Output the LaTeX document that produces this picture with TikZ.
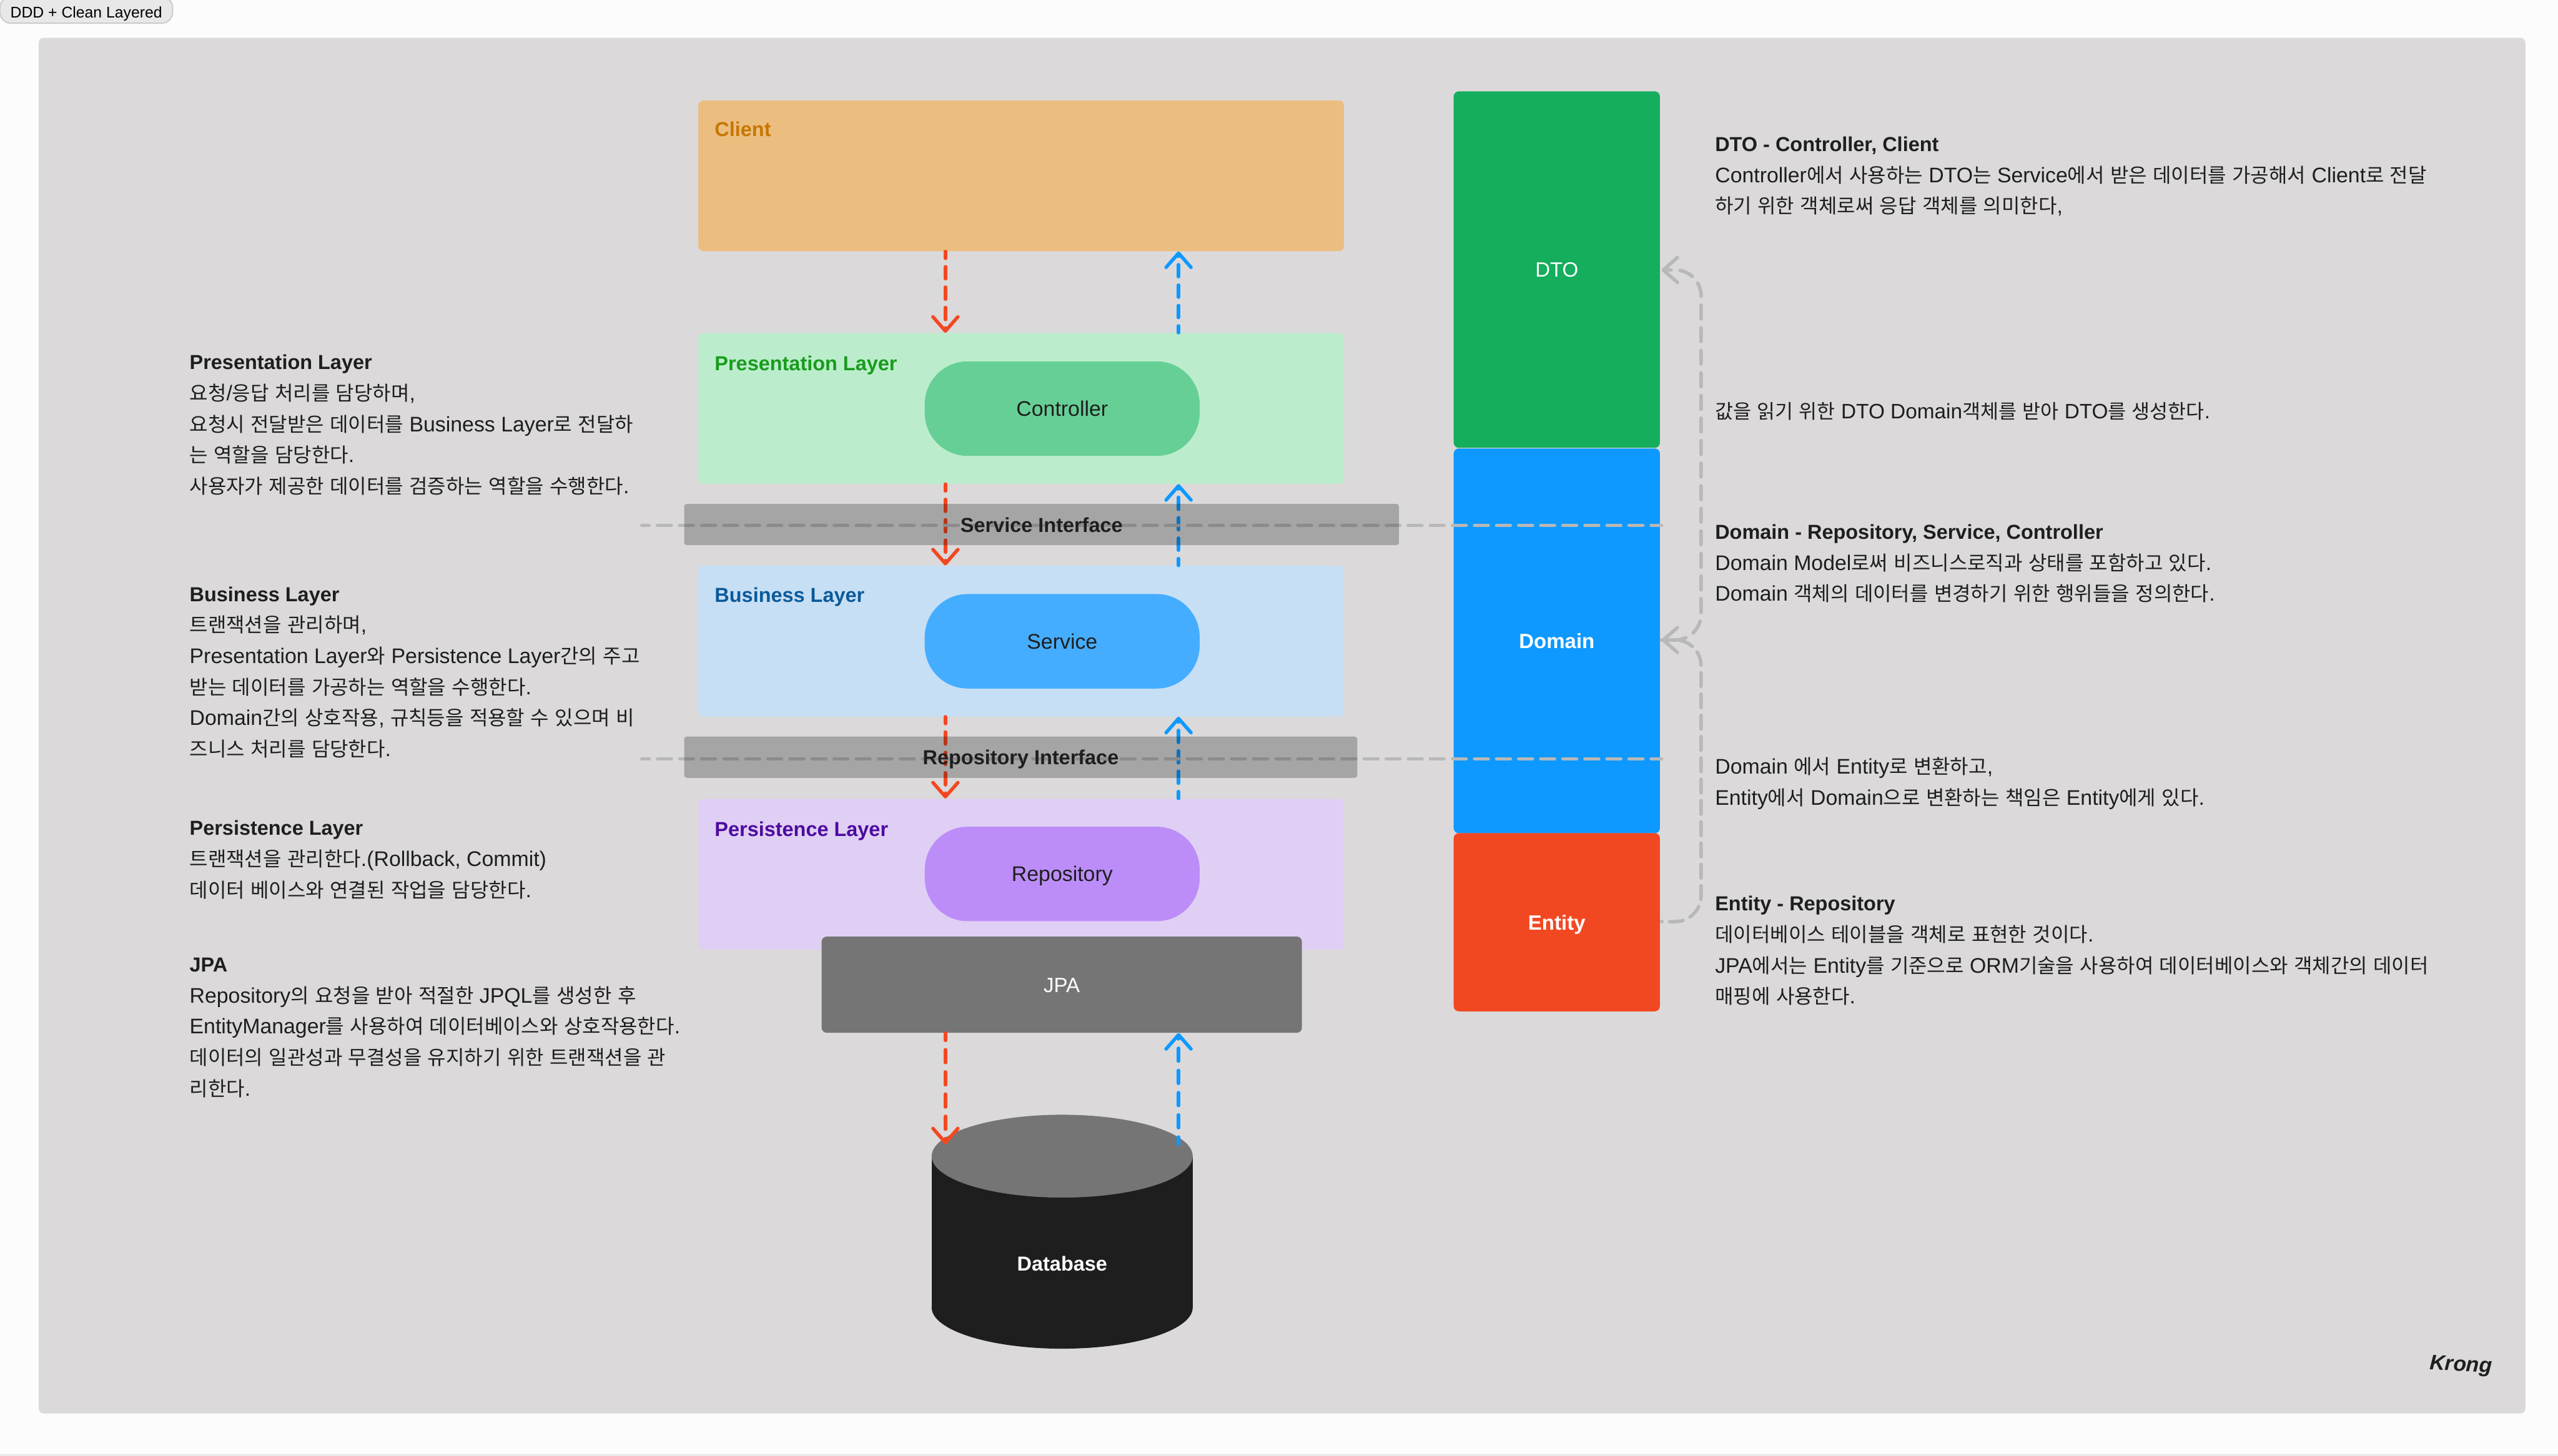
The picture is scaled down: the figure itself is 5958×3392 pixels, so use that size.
\documentclass[tikz,border=0pt]{standalone}
\usepackage{fontspec}
\usetikzlibrary{arrows.meta}
\setmainfont{Liberation Sans}
\newfontfamily\latfam{Liberation Sans}
\newfontfamily\krfam{Noto Sans CJK KR}[Scale=0.945]
\XeTeXinterchartokenstate=1
\newXeTeXintercharclass\krclass
\newcount\krcnt
\krcnt="AC00
\loop
  \XeTeXcharclass\krcnt=\krclass
  \ifnum\krcnt<"D7A3
  \advance\krcnt by 1
\repeat
\XeTeXinterchartoks 0 \krclass={\krfam}
\XeTeXinterchartoks 4095 \krclass={\krfam}
\XeTeXinterchartoks \krclass 0={\latfam}
\XeTeXinterchartoks \krclass 4095={\latfam}
\newcommand{\notetitle}[1]{{\fontsize{13.42}{20.55}\selectfont\bfseries #1}}
\definecolor{pagebg}{HTML}{FCFCFC}
\definecolor{panelbg}{HTML}{DBD9DA}
\definecolor{ink}{HTML}{1E1E1E}
\definecolor{redarrow}{HTML}{F24822}
\definecolor{bluearrow}{HTML}{0D99FF}
\definecolor{dtofill}{HTML}{14AE5C}
\definecolor{dashgrey}{HTML}{B8B8B8}
\definecolor{clientfill}{HTML}{EBBE80}
\definecolor{presentfill}{HTML}{BBEDCC}
\definecolor{businessfill}{HTML}{C6DFF5}
\definecolor{persistfill}{HTML}{E0CFF4}
\definecolor{clientink}{HTML}{C77700}
\definecolor{presentink}{HTML}{189C1C}
\definecolor{businessink}{HTML}{0B5A9A}
\definecolor{persistink}{HTML}{4D0BA0}
\definecolor{controllerfill}{HTML}{66CF95}
\definecolor{servicefill}{HTML}{45ADFF}
\definecolor{repofill}{HTML}{BC8DF8}
\definecolor{jpafill}{HTML}{757575}
\tikzset{
  x=0.01cm,y=-0.01cm,
  centered/.style={text height=0.355cm,text depth=0cm},
  layerbox/.style={rectangle,rounded corners=0.12cm,inner sep=0,minimum width=15.03cm,minimum height=3.51cm},
  pill/.style={rectangle,rounded corners=1cm,inner sep=0,minimum width=6.4cm,minimum height=2.2cm,text=ink,centered,font=\fontsize{14}{20}\selectfont},
  interface/.style={rectangle,rounded corners=0.06cm,inner sep=0,minimum height=0.96cm,fill=black,fill opacity=0.24,text opacity=1,text=ink,centered,font=\fontsize{13.42}{20}\selectfont\bfseries},
  column/.style={rectangle,rounded corners=0.12cm,inner sep=0,minimum width=4.8cm,text=white,centered,font=\fontsize{13.66}{20}\selectfont},
  layerlabel/.style={anchor=west,inner sep=0,centered,font=\fontsize{13.42}{20}\selectfont\bfseries},
  note/.style={anchor=north west,inner sep=0,align=left,text=ink,font=\fontsize{14}{20.55}\selectfont},
  flowbase/.style={line width=0.08cm,line cap=round,-{Straight Barb[length=0.33cm,width=0.58cm,round]}},
  flowshort/.style={flowbase,dash pattern=on 0.28cm off 0.195cm,dash phase=0.12cm},
  flowlong/.style={flowbase,dash pattern=on 0.30cm off 0.217cm,dash phase=0.13cm},
  divider/.style={line width=0.08cm,line cap=round,draw=dashgrey,dash pattern=on 0.32cm off 0.194cm,dash phase=0.15cm},
  bracket/.style={line width=0.08cm,line cap=round,draw=dashgrey,rounded corners=0.6cm,{Straight Barb[length=0.33cm,width=0.58cm,round]}-},
}
\begin{document}
\begin{tikzpicture}
\useasboundingbox (0,0) rectangle (5958,3392);
\fill[pagebg] (0,0) rectangle (5958,3392);
\fill[black!9] (0,3388) rectangle (5958,3392);
\fill[panelbg,rounded corners=0.12cm] (90,88) rectangle (5882,3293);
\node[rectangle,rounded corners=0.26cm,fill=black!9,draw=black!20,line width=0.03cm,minimum width=4.02cm,minimum height=0.62cm,inner sep=0,text=black,text height=0.38cm,text depth=0cm,font=\fontsize{10.24}{12}\selectfont] (tag) at (201,23) {DDD + Clean Layered};

% layers
\node[layerbox,fill=clientfill] (client) at (2378.5,409.5) {};
\node[layerbox,fill=presentfill] (present) at (2378.5,951.5) {};
\node[layerbox,fill=businessfill] (business) at (2378.5,1493.5) {};
\node[layerbox,fill=persistfill] (persist) at (2378.5,2036.5) {};
\node[layerlabel,text=clientink] (clientlbl) at (1664,300) {Client};
\node[layerlabel,text=presentink] (presentlbl) at (1664,846) {Presentation Layer};
\node[layerlabel,text=businessink] (businesslbl) at (1664,1385) {Business Layer};
\node[layerlabel,text=persistink] (persistlbl) at (1664,1930) {Persistence Layer};
\node[pill,fill=controllerfill] (controller) at (2474,952) {Controller};
\node[pill,fill=servicefill] (service) at (2474,1494) {Service};
\node[pill,fill=repofill] (repository) at (2474,2036) {Repository};
\node[rectangle,rounded corners=0.12cm,inner sep=0,minimum width=11.18cm,minimum height=2.24cm,fill=jpafill,text=white,centered,font=\fontsize{13.66}{20}\selectfont] (jpa) at (2473,2294) {JPA};

% columns
\node[column,minimum height=8.3cm,fill=dtofill] (dto) at (3626,628) {DTO};
\node[column,minimum height=8.96cm,fill=bluearrow,font=\fontsize{13.66}{20}\selectfont\bfseries] (domain) at (3626,1493) {Domain};
\node[column,minimum height=4.15cm,fill=redarrow,font=\fontsize{13.66}{20}\selectfont\bfseries] (entity) at (3626,2148.5) {Entity};

% database
\fill[ink] (2474,3046) ellipse [x radius=304,y radius=96];
\fill[ink] (2170,2693) rectangle (2778,3046);
\fill[jpafill] (2474,2693.5) ellipse [x radius=304,y radius=96.5];
\node[text=white,inner sep=0,centered,font=\fontsize{13.42}{20}\selectfont\bfseries] (database) at (2474,2943) {Database};

% guides
\coordinate (redx) at (2202,0);
\coordinate (bluex) at (2745,0);
\coordinate (dbtop) at (0,2666);
\coordinate (sL) at (1495,1224);
\coordinate (sR) at (3870,1224);
\coordinate (rL) at (1495,1768);
\coordinate (rR) at (3870,1768);
\coordinate (dtoIn) at (3870,629);
\coordinate (domIn) at (3870,1491);
\coordinate (entOut) at (3870,2147);
\coordinate (railx) at (3962,0);

\foreach \a/\b in {client/present,present/business,business/persist}{
  \draw[flowshort,draw=redarrow] (\a.south -| redx) -- (\b.north -| redx);
  \draw[flowshort,draw=bluearrow] (\b.north -| bluex) -- (\a.south -| bluex);
}
\draw[flowlong,draw=redarrow] (jpa.south -| redx) -- (dbtop -| redx);
\draw[flowlong,draw=bluearrow] (dbtop -| bluex) -- (jpa.south -| bluex);

\draw[divider] (sL) -- (sR);
\draw[divider] (rL) -- (rR);
\node[interface,minimum width=16.64cm] (serviceif) at (2426,1222) {Service Interface};
\node[interface,minimum width=15.67cm] (repoif) at (2377.5,1764) {Repository Interface};

\draw[bracket,dash pattern=on 0.32cm off 0.176cm,dash phase=0.146cm] (domIn) -- (domIn -| railx) -- (entOut -| railx) -- (entOut);
\draw[bracket,dash pattern=on 0.32cm off 0.2056cm,dash phase=0.1756cm] (dtoIn) -- (dtoIn -| railx) -- (domIn -| railx) -- (domIn);

% notes
\node[note] (n1) at (441,826) {\notetitle{Presentation Layer}\\요청/응답 처리를 담당하며,\\요청시 전달받은 데이터를 Business Layer로 전달하\\는 역할을 담당한다.\\사용자가 제공한 데이터를 검증하는 역할을 수행한다.};
\node[note] (n2) at (441,1366) {\notetitle{Business Layer}\\트랜잭션을 관리하며,\\Presentation Layer와 Persistence Layer간의 주고\\받는 데이터를 가공하는 역할을 수행한다.\\Domain간의 상호작용, 규칙등을 적용할 수 있으며 비\\즈니스 처리를 담당한다.};
\node[note] (n3) at (441,1911) {\notetitle{Persistence Layer}\\트랜잭션을 관리한다.(Rollback, Commit)\\데이터 베이스와 연결된 작업을 담당한다.};
\node[note] (n4) at (441,2231) {\notetitle{JPA}\\Repository의 요청을 받아 적절한 JPQL를 생성한 후\\EntityManager를 사용하여 데이터베이스와 상호작용한다.\\데이터의 일관성과 무결성을 유지하기 위한 트랜잭션을 관\\리한다.};
\node[note] (n5) at (3994,318) {\notetitle{DTO - Controller, Client}\\Controller에서 사용하는 DTO는 Service에서 받은 데이터를 가공해서 Client로 전달\\하기 위한 객체로써 응답 객체를 의미한다,};
\node[note,font=\fontsize{13.8}{20.55}\selectfont] (n6) at (3994,936) {값을 읽기 위한 DTO Domain객체를 받아 DTO를 생성한다.};
\node[note] (n7) at (3994,1221) {\notetitle{Domain - Repository, Service, Controller}\\Domain Model로써 비즈니스로직과 상태를 포함하고 있다.\\Domain 객체의 데이터를 변경하기 위한 행위들을 정의한다.};
\node[note] (n8) at (3994,1764) {Domain 에서 Entity로 변환하고,\\Entity에서 Domain으로 변환하는 책임은 Entity에게 있다.};
\node[note] (n9) at (3994,2087) {\notetitle{Entity - Repository}\\데이터베이스 테이블을 객체로 표현한 것이다.\\JPA에서는 Entity를 기준으로 ORM기술을 사용하여 데이터베이스와 객체간의 데이터\\매핑에 사용한다.};
\node[anchor=center,inner sep=0,text=ink,rotate=-3,font=\fontsize{14}{16}\selectfont\bfseries\itshape] (sign) at (5732,3182) {Krong};
\end{tikzpicture}
\end{document}
